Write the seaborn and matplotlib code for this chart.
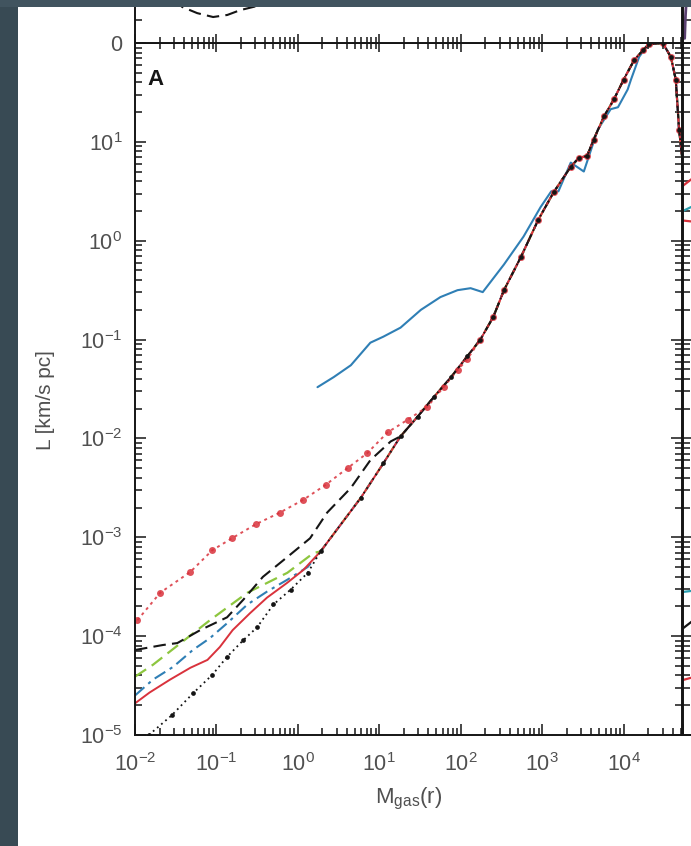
import numpy as np
import pandas as pd
import seaborn as sns
import matplotlib.pyplot as plt
from matplotlib.patches import Rectangle
from matplotlib.ticker import FixedLocator, LogLocator, NullFormatter

# shared upper track (all runs collapse onto it above M ~ 1)
track_m = [1.9, 5.9, 11.2, 18.2, 29.5, 46.8, 75.9, 120, 174, 251, 339, 550, 891, 1380,
           2240, 2820, 3550, 4270, 5750, 7590, 10000, 13500, 17400, 20400, 30200, 38000,
           43600, 47900, 56200]
track_L = [7.2e-4, 2.5e-3, 5.6e-3, 0.0105, 0.0166, 0.0263, 0.0417, 0.0676, 0.1, 0.17,
           0.316, 0.69, 1.62, 3.09, 5.6, 6.9, 7.2, 10.5, 18.2, 26.9, 42.7, 67.6, 85, 97.7,
           100, 72, 42.7, 13.2, 4.0]

blue_m = [1.74, 2.75, 4.47, 7.76, 11.2, 18.2, 32.4, 56.2, 91.2, 132, 186, 339, 589, 955,
          1290, 1580, 2240, 3240, 4790, 6920, 8510, 11200, 12300, 15500, 17800, 20400,
          30200, 38000, 43600, 47900, 56200]
blue_L = [0.033, 0.0417, 0.055, 0.093, 0.107, 0.132, 0.2, 0.269, 0.316, 0.331, 0.302,
          0.575, 1.10, 2.19, 3.16, 3.16, 6.17, 5.01, 13.2, 21.4, 22.4, 33.9, 42.7, 72.4,
          85.1, 97.7, 100, 72, 42.7, 13.2, 4.0]

reddot_m = [0.0107, 0.0204, 0.0479, 0.0891, 0.155, 0.302, 0.603, 1.17, 2.19, 4.07, 7.08,
            12.6, 22.4, 38.9, 61.7, 91.2, 120]
reddot_L = [1.45e-4, 2.75e-4, 4.47e-4, 7.41e-4, 9.77e-4, 1.35e-3, 1.78e-3, 2.40e-3,
            3.39e-3, 5.01e-3, 7.08e-3, 0.0115, 0.0155, 0.0209, 0.0331, 0.049, 0.063]

blackdot_m = [0.0148, 0.0282, 0.0513, 0.0891, 0.135, 0.214, 0.316, 0.501, 0.813, 1.32]
blackdot_L = [1.0e-5, 1.58e-5, 2.63e-5, 4.07e-5, 6.17e-5, 9.12e-5, 1.23e-4, 2.09e-4,
              2.95e-4, 4.37e-4]

red_m = [0.01, 0.0151, 0.0269, 0.0479, 0.0776, 0.110, 0.158, 0.257, 0.417, 0.741, 1.17]
red_L = [2.09e-5, 2.69e-5, 3.63e-5, 4.79e-5, 5.75e-5, 7.76e-5, 1.15e-4, 1.70e-4,
         2.45e-4, 3.47e-4, 4.68e-4]

bluedd_m = [0.01, 0.0166, 0.0295, 0.0513, 0.0832, 0.135, 0.240, 0.417, 0.741, 1.32]
bluedd_L = [2.51e-5, 3.63e-5, 4.90e-5, 7.24e-5, 9.55e-5, 1.35e-4, 2.09e-4, 2.82e-4,
            3.72e-4, 5.01e-4]

green_m = [0.01, 0.0166, 0.0832, 0.240, 0.741, 1.55]
green_L = [3.89e-5, 5.13e-5, 1.45e-4, 2.75e-4, 4.37e-4, 6.92e-4]

blackdash_m = [0.01, 0.0219, 0.0331, 0.0631, 0.135, 0.214, 0.372, 0.741, 1.41, 2.29,
               4.47, 7.76, 13.8]
blackdash_L = [7.24e-5, 8.13e-5, 8.51e-5, 1.15e-4, 1.55e-4, 2.34e-4, 3.98e-4, 6.31e-4,
               9.77e-4, 1.78e-3, 3.16e-3, 6.03e-3, 9.33e-3]

# piece of the panel above (linear y)
top_m = [0.027, 0.0379, 0.058, 0.091, 0.136, 0.196, 0.316, 0.45]
top_y = [2.09, 1.57, 1.30, 1.13, 1.22, 1.43, 1.61, 1.9]

xticks = [1e-2, 1e-1, 1e0, 1e1, 1e2, 1e3, 1e4]
yticks = [1e-5, 1e-4, 1e-3, 1e-2, 1e-1, 1e0, 1e1]

BLUE = "#2f7fb5"
RED = "#d9323c"
GREEN = "#8dc63f"
BLACK = "#151515"
GREY = "#505050"
FS = 15.5

sns.set_theme(style="ticks")
plt.rcParams["font.family"] = ["Liberation Sans", "DejaVu Sans"]
plt.rcParams["mathtext.fontset"] = "custom"
plt.rcParams["mathtext.rm"] = "Liberation Sans"
plt.rcParams["mathtext.it"] = "Liberation Sans"

W, H = 691, 846
fig = plt.figure(figsize=(W / 100, H / 100), dpi=100)
fig.patch.set_facecolor("white")

x0, x1, y0, y1 = 135, 682, 43, 735
ax = fig.add_axes([x0 / W, 1 - y1 / H, (x1 - x0) / W, (y1 - y0) / H])
ax_top = fig.add_axes([x0 / W, 1 - y0 / H, (x1 - x0) / W, 200 / H])
ax_r = fig.add_axes([(x1 + 1) / W, 1 - y1 / H, 0.3, (y1 - y0) / H])
ax_rt = fig.add_axes([(x1 + 1) / W, 1 - y0 / H, 0.3, 200 / H])


def seg(m, L):
    return pd.DataFrame({"M": m, "L": L})


def tail(m, L):
    # lower run, then the shared upper track beyond its last point
    keep = [i for i, v in enumerate(track_m) if v > max(m)]
    return seg(list(m) + [track_m[i] for i in keep], list(L) + [track_L[i] for i in keep])


ax.set_xscale("log")
ax.set_yscale("log")

kw = dict(x="M", y="L", ax=ax, estimator=None, sort=False, legend=False)
sns.lineplot(data=seg(blue_m, blue_L), color=BLUE, lw=1.5, **kw)
sns.lineplot(data=tail(green_m, green_L), color=GREEN, lw=1.6,
             linestyle=(0, (6, 3)), **kw)
sns.lineplot(data=tail(bluedd_m, bluedd_L), color=BLUE, lw=1.5,
             linestyle=(0, (6, 2.5, 1.5, 2.5)), **kw)
sns.lineplot(data=tail(red_m, red_L), color=RED, lw=1.4, **kw)
sns.lineplot(data=tail(blackdash_m, blackdash_L), color=BLACK, lw=1.5,
             linestyle=(0, (6, 3)), **kw)
sns.lineplot(data=tail(reddot_m, reddot_L), color=RED, lw=1.4, linestyle=(0, (1.5, 2)),
             marker="o", markersize=5, markeredgewidth=0, alpha=0.85, **kw)
sns.lineplot(data=tail(blackdot_m, blackdot_L), color=BLACK, lw=1.3, linestyle=(0, (1, 2)),
             marker="o", markersize=3.4, markeredgewidth=0, **kw)

ax.set_xlim(1e-2, 5.2e4)
ax.set_ylim(1e-5, 1e2)
ax.xaxis.set_major_locator(FixedLocator(xticks))
ax.yaxis.set_major_locator(FixedLocator(yticks))
ax.xaxis.set_minor_locator(LogLocator(10, subs=np.arange(2, 10)))
ax.yaxis.set_minor_locator(LogLocator(10, subs=np.arange(2, 10)))
ax.xaxis.set_minor_formatter(NullFormatter())
ax.yaxis.set_minor_formatter(NullFormatter())
ax.tick_params(which="both", direction="in", left=True, right=True, bottom=True, top=False,
               width=1.1, colors=BLACK, labelcolor=GREY, labelsize=FS)
ax.tick_params(which="major", length=8)
ax.tick_params(which="minor", length=5)
ax.tick_params(axis="y", which="both", pad=9)
ax.tick_params(axis="x", which="both", pad=13)
ax.set_xlabel(r"$\mathregular{M_{gas}(r)}$", fontsize=16, color=GREY, labelpad=7)
ax.set_ylabel("L [km/s pc]", fontsize=15, color=GREY)
ax.yaxis.set_label_coords(-0.146, 0.484)
ax.text(0.022, 0.963, "A", transform=ax.transAxes, fontsize=16, fontweight="bold",
        color=BLACK, va="top", ha="left")
for s in ax.spines.values():
    s.set_linewidth(1.4)
    s.set_color(BLACK)

# panel above, sharing the x axis line
ax_top.set_xscale("log")
ax_top.set_xlim(ax.get_xlim())
ax_top.set_ylim(0, 8.7)
sns.lineplot(data=pd.DataFrame({"M": top_m, "y": top_y}), x="M", y="y", ax=ax_top,
             estimator=None, sort=False, color=BLACK, lw=1.5, linestyle=(0, (6, 3)),
             legend=False)
ax_top.set_xlabel("")
ax_top.set_ylabel("")
ax_top.set_yticks([0])
ax_top.set_yticks([1, 2, 3, 4], minor=True)
ax_top.yaxis.set_minor_formatter(NullFormatter())
ax_top.xaxis.set_major_locator(FixedLocator(xticks))
ax_top.xaxis.set_minor_locator(LogLocator(10, subs=np.arange(2, 10)))
ax_top.tick_params(axis="x", which="both", bottom=True, top=False, labelbottom=False,
                   direction="inout", width=1.1, colors=BLACK)
ax_top.tick_params(axis="x", which="major", length=13)
ax_top.tick_params(axis="x", which="minor", length=8)
ax_top.tick_params(axis="y", which="both", direction="in", width=1.1, colors=BLACK,
                   labelcolor=GREY, labelsize=FS, pad=9)
ax_top.tick_params(axis="y", which="major", length=8)
ax_top.tick_params(axis="y", which="minor", length=5)
for s in ax_top.spines.values():
    s.set_linewidth(1.4)
    s.set_color(BLACK)

# neighbouring panels on the right, mostly cut off
ax_r.set_yscale("log")
ax_r.set_xlim(0, 1)
ax_r.set_ylim(1e-5, 1e2)
right_y0 = [3.6, 2.0, 1.6, 2.8e-4, 1.2e-4, 3.6e-5]
right_y1 = [4.5, 2.3, 1.55, 2.9e-4, 1.5e-4, 3.9e-5]
right_c = [RED, "#2a9fb0", RED, "#2a9fb0", BLACK, RED]
for a, b, c in zip(right_y0, right_y1, right_c):
    sns.lineplot(data=pd.DataFrame({"x": [0.0, 0.06], "y": [a, b]}), x="x", y="y",
                 ax=ax_r, estimator=None, color=c, lw=1.6, legend=False)
ax_r.set_xlabel("")
ax_r.set_ylabel("")
ax_r.yaxis.set_minor_locator(LogLocator(10, subs=np.arange(2, 10)))
ax_r.tick_params(which="both", direction="in", labelleft=False, labelbottom=False,
                 width=1.1, colors=BLACK)
ax_r.tick_params(which="major", length=8)
ax_r.tick_params(which="minor", length=5)

ax_rt.set_xlim(0, 1)
ax_rt.set_ylim(0, 8.7)
sns.lineplot(data=pd.DataFrame({"x": [0.008, 0.012, 0.02], "y": [0.2, 1.2, 2.4]}),
             x="x", y="y", ax=ax_rt, estimator=None, sort=False, color="#5b4170",
             lw=2.0, legend=False)
ax_rt.set_xlabel("")
ax_rt.set_ylabel("")
ax_rt.set_xticks([])
ax_rt.set_yticks([1])
ax_rt.tick_params(which="both", direction="in", labelleft=False, labelbottom=False,
                  width=1.1, colors=BLACK, length=6)
for a_ in (ax_r, ax_rt):
    for s in a_.spines.values():
        s.set_linewidth(1.4)
        s.set_color(BLACK)

# dark page border left and top
fig.add_artist(Rectangle((0, 0), 18 / W, 1, transform=fig.transFigure,
                         facecolor="#384a54", edgecolor="none", zorder=20))
fig.add_artist(Rectangle((0, 1 - 7 / H), 1, 7 / H, transform=fig.transFigure,
                         facecolor="#41545f", edgecolor="none", zorder=20))

fig.savefig("out.png", dpi=100, facecolor=fig.get_facecolor())
